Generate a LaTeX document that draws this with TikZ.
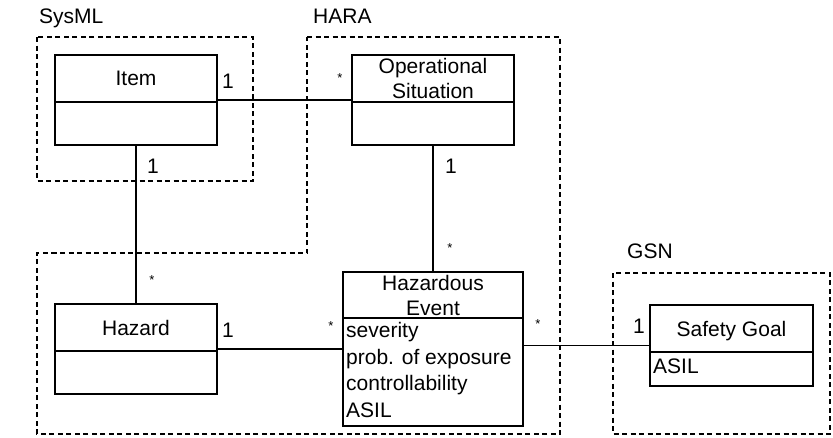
\documentclass[tikz,border=0pt]{standalone}
\usepackage{fontspec}
\setmainfont{Liberation Sans}
\begin{document}
\begin{tikzpicture}[x=1pt,y=-1pt,
  umlbox/.style={draw, line width=1.8pt, rectangle, inner sep=0pt, outer sep=0pt},
  divider/.style={line width=1.8pt},
  grp/.style={draw, line width=1.6pt, dash pattern=on 5pt off 3.5pt},
  conn/.style={draw, line width=1.4pt},
  txt/.style={inner sep=0pt, font=\fontsize{21}{25}\selectfont},
  ttl/.style={txt, align=center},
  attr/.style={txt, anchor=base west},
  mult/.style={txt, anchor=base},
  star/.style={inner sep=0pt, font=\fontsize{13}{14}\selectfont, anchor=center}
]
\useasboundingbox (0,0) rectangle (833,437);

% group frames
\draw[grp] (37,37) rectangle (253,181);
\draw[grp] (307,37) -- (560,37) -- (560,434) -- (37,434) -- (37,253) -- (307,253) -- cycle;
\draw[grp] (613,273) rectangle (830,434);

% group labels
\node[attr] (lsys) at (39,23) {SysML};
\node[attr] (lhara) at (313,23) {HARA};
\node[attr] (lgsn) at (627,258) {GSN};

% class boxes
\node[umlbox, minimum width=162pt, minimum height=90pt] (item) at (136,100) {};
\draw[divider] ([yshift=-47pt]item.north west) -- ([yshift=-47pt]item.north east);
\node[ttl, text depth=0pt] (itemT) at ([yshift=-23.5pt]item.north) {Item};

\node[umlbox, minimum width=162pt, minimum height=90pt] (opsit) at (433,100) {};
\draw[divider] ([yshift=-47pt]opsit.north west) -- ([yshift=-47pt]opsit.north east);
\node[ttl] (opsitT) at ([yshift=-23.5pt]opsit.north) {Operational\\Situation};

\node[umlbox, minimum width=162pt, minimum height=90pt] (hazard) at (136,349) {};
\draw[divider] ([yshift=-47pt]hazard.north west) -- ([yshift=-47pt]hazard.north east);
\node[ttl, text depth=0pt] (hazardT) at ([yshift=-23.5pt]hazard.north) {Hazard};

\node[umlbox, minimum width=180pt, minimum height=154pt] (he) at (433,349) {};
\draw[divider] ([yshift=-46pt]he.north west) -- ([yshift=-46pt]he.north east);
\node[ttl] (heT) at ([yshift=-23pt]he.north) {Hazardous\\Event};
\node[attr] (heA1) at (346,337) {severity};
\node[attr] (heA2) at (346,364) {prob. of exposure};
\node[attr] (heA3) at (346,390) {controllability};
\node[attr] (heA4) at (346,417) {ASIL};

\node[umlbox, minimum width=163pt, minimum height=81pt] (sg) at (731.5,345.5) {};
\draw[divider] ([yshift=-47pt]sg.north west) -- ([yshift=-47pt]sg.north east);
\node[ttl, text depth=0pt] (sgT) at ([yshift=-23.5pt]sg.north) {Safety Goal};
\node[attr] (sgA1) at (653,373) {ASIL};

% connectors
\draw[conn] (item.east) -- (opsit.west);
\draw[conn] (item.south) -- (hazard.north);
\draw[conn] (opsit.south) -- (he.north);
\draw[conn] (hazard.east) -- (hazard.east -| he.west);
\draw[conn] (he.east |- sg.west) -- (sg.west);

% multiplicities
\node[mult] (m1) at (228,88) {1};
\node[star] (m2) at (340,78) {*};
\node[mult] (m3) at (153,173) {1};
\node[star] (m4) at (152,280) {*};
\node[mult] (m5) at (228,337) {1};
\node[star] (m6) at (331,326) {*};
\node[mult] (m7) at (451,173) {1};
\node[star] (m8) at (450,248) {*};
\node[star] (m9) at (538,324) {*};
\node[mult] (m10) at (639,333) {1};
\end{tikzpicture}
\end{document}
